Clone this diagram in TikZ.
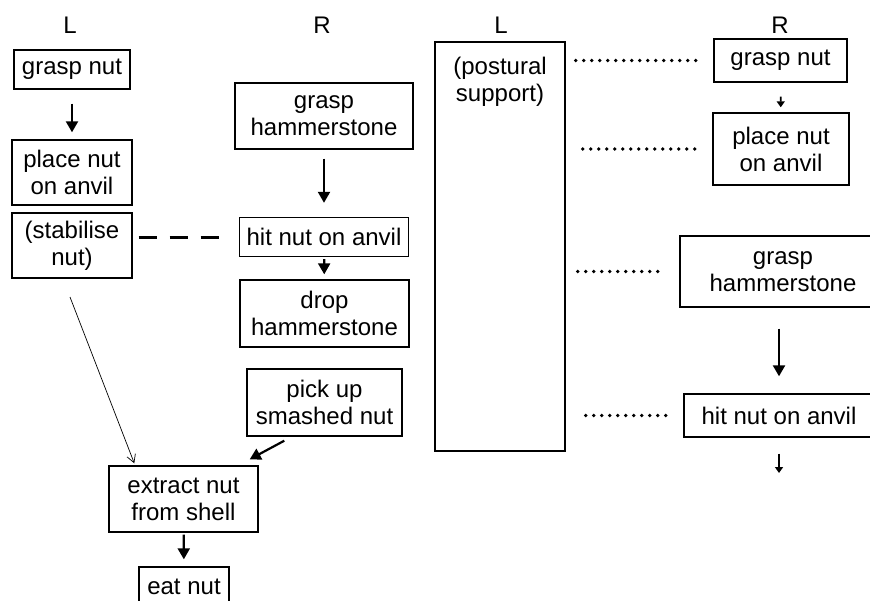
\documentclass[tikz,border=0pt]{standalone}
\usepackage{fontspec}
\setmainfont{Liberation Sans}
\usetikzlibrary{arrows.meta}
\tikzset{
  box/.style={draw, line width=0.7pt, align=center, inner sep=1pt, font=\fontsize{12}{13.5}\selectfont},
  lbl/.style={align=center, inner sep=1pt, font=\fontsize{12}{13.5}\selectfont},
  arr/.style={line width=1.1pt, -{Triangle[length=5.5pt,width=6pt]}},
  smallarr/.style={line width=0.8pt, -{Triangle[length=3pt,width=4pt]}},
  thinarr/.style={line width=0.35pt, -{Straight Barb[length=4pt,width=4.5pt]}},
  dots/.style={line width=1.8pt, line cap=round, dash pattern=on 0pt off 4pt},
  dashline/.style={line width=1.5pt, dash pattern=on 9pt off 6.5pt},
}
\begin{document}
\begin{tikzpicture}[x=0.5pt, y=-0.5pt]
\useasboundingbox (0,0) rectangle (870,600);
\clip (0,0) rectangle (870,600);
\node[lbl] (L1) at (70,25) {L};
\node[lbl] (R1) at (322,25) {R};
\node[lbl] (L2) at (501,25) {L};
\node[lbl] (R2) at (780,25) {R};
\node[box, minimum width=58pt, minimum height=19.5pt] (gnL) at (72,69.5) {grasp nut};
\node[box, minimum width=60pt, minimum height=32.5pt] (pnL) at (72,172.5) {place nut\\on anvil};
\node[box, minimum width=60pt, minimum height=32.5pt] (stL) at (72,245.5) {(stabilise\\nut)};
\node[box, minimum width=89pt, minimum height=33pt] (ghL) at (324,116) {grasp\\hammerstone};
\node[box, minimum width=84.5pt, minimum height=19.5pt] (hnL) at (324,237) {hit nut on anvil};
\node[box, minimum width=84.5pt, minimum height=33.5pt] (dhL) at (324.5,313.5) {drop\\hammerstone};
\node[box, minimum width=77.5pt, minimum height=33.5pt] (puL) at (324.5,402.5) {pick up\\smashed nut};
\node[box, minimum width=74.5pt, minimum height=33pt] (exL) at (183.5,499) {extract nut\\from shell};
\node[box, minimum width=45pt, minimum height=19.5pt] (eatL) at (184,586.5) {eat nut};
\coordinate (stTail) at (70,297);
\draw[arr, shorten <=7pt, shorten >=3.5pt] (gnL) -- (pnL);
\draw[arr, shorten <=4.5pt, shorten >=7pt] (ghL) -- (hnL);
\draw[arr, shorten <=1pt, shorten >=2.5pt] (hnL) -- (dhL);
\draw[arr, shorten <=1pt, shorten >=3.5pt] (exL) -- (eatL);
\draw[arr] ([xshift=19pt,yshift=-2pt]puL.south west) -- ([xshift=-4.5pt,yshift=3pt]exL.north east);
\draw[thinarr] (stTail) -- ([xshift=13pt,yshift=1pt]exL.north west);
\draw[dashline, shorten <=3pt, shorten >=4pt] (hnL.west -| stL.east) -- (hnL.west);
\node[box, minimum width=65pt, minimum height=204.5pt] (posL) at (500,246.5) {};
\node[lbl] (posTxt) at (500,82) {(postural\\support)};
\node[box, minimum width=66.5pt, minimum height=21.5pt] (gnR) at (780.5,60.5) {grasp nut};
\node[box, minimum width=68pt, minimum height=36pt] (pnR) at (781,149) {place nut\\on anvil};
\node[box, minimum width=103pt, minimum height=35.5pt] (ghR) at (783,271.5) {grasp\\hammerstone};
\node[box, minimum width=95pt, minimum height=21.5pt] (hnR) at (779,415.5) {hit nut on anvil};
\coordinate (hnRnext) at (779,473);
\draw[smallarr, shorten <=7pt, shorten >=2.5pt] (gnR) -- (pnR);
\draw[arr, shorten <=10.5pt, shorten >=8.5pt] (hnR.north |- ghR.south) -- (hnR.north);
\draw[smallarr, shorten <=8pt] (hnR) -- (hnRnext);
\draw[dots, shorten <=5pt, shorten >=7pt] (gnR.west -| posL.east) -- (gnR.west);
\draw[dots, shorten <=8.5pt, shorten >=7pt] (pnR.west -| posL.east) -- (pnR.west);
\draw[dots, shorten <=6pt, shorten >=9pt] (ghR.west -| posL.east) -- (ghR.west);
\draw[dots, shorten <=10pt, shorten >=8pt] (hnR.west -| posL.east) -- (hnR.west);
\end{tikzpicture}
\end{document}
